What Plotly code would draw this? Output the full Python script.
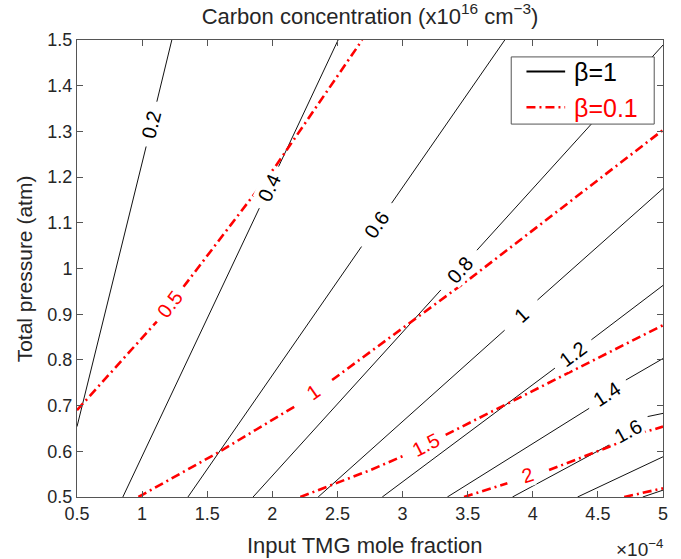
import plotly.graph_objects as go

# x: input TMG mole fraction in units of 1e-4 ; p: total pressure (atm)
x_ticks = [0.5, 1, 1.5, 2, 2.5, 3, 3.5, 4, 4.5, 5]
x_ticktext = ["0.5", "1", "1.5", "2", "2.5", "3", "3.5", "4", "4.5", "5"]
y_ticks = [0.5, 0.6, 0.7, 0.8, 0.9, 1.0, 1.1, 1.2, 1.3, 1.4, 1.5]
y_ticktext = ["0.5", "0.6", "0.7", "0.8", "0.9", "1", "1.1", "1.2", "1.3", "1.4", "1.5"]

# beta = 1 contours (black)
b1_levels = ["0.2", "0.4", "0.6", "0.8", "1", "1.2", "1.4", "1.6", "1.8", "2"]
b1_x = [
    [0.5, 0.779, 1.031, None, 1.113, 1.228],
    [0.852, 1.900, None, 2.048, 2.505],
    [1.352, 2.685, None, 2.916, 3.785],
    [1.852, 3.294, None, 3.571, 5.0],
    [2.352, 3.784, None, 4.036, 5.0],
    [2.844, 4.17, None, 4.45, 5.0],
    [3.344, 4.433, None, 4.715, 5.0],
    [3.844, 4.587, None, 4.882, 5.0],
    [4.344, 5.0],
    [4.844, 5.0],
]
b1_p = [
    [0.654, 0.975, 1.267, None, 1.365, 1.5],
    [0.5, 1.132, None, 1.223, 1.5],
    [0.5, 1.048, None, 1.143, 1.5],
    [0.5, 0.953, None, 1.040, 1.489],
    [0.5, 0.865, None, 0.931, 1.175],
    [0.5, 0.782, None, 0.844, 0.963],
    [0.5, 0.694, None, 0.756, 0.803],
    [0.5, 0.614, None, 0.676, 0.683],
    [0.5, 0.588],
    [0.5, 0.515],
]
b1_lab_x = [1.072, 1.973, 2.80, 3.44, 3.915, 4.31, 4.57, 4.735]
b1_lab_p = [1.316, 1.177, 1.095, 0.997, 0.898, 0.813, 0.725, 0.645]
b1_lab_angle = [-76, -65, -55, -48, -42, -37, -33, -29]

# beta = 0.1 contours (red)
b01_levels = ["0.5", "1", "1.5", "2", "2.5"]
b01_x = [
    [0.5, 1.113, None, 1.318, 1.805, 2.023, 2.69],
    [0.972, 1.575, 2.177, None, 2.459, 2.754, 3.395, 3.523, 5.0],
    [2.215, 2.754, 3.023, None, 3.331, 5.0],
    [3.472, 3.805, None, 4.125, 4.587, 4.869, 5.0],
    [4.702, 5.0],
]
b01_p = [
    [0.690, 0.884, None, 0.960, 1.143, 1.223, 1.5],
    [0.5, 0.596, 0.699, None, 0.756, 0.818, 0.953, 0.979, 1.303],
    [0.5, 0.559, 0.592, None, 0.636, 0.876],
    [0.5, 0.530, None, 0.559, 0.610, 0.643, 0.654],
    [0.5, 0.519],
]
b01_lab_x = [1.215, 2.318, 3.177, 3.962]
b01_lab_p = [0.922, 0.729, 0.614, 0.548]
b01_lab_angle = [-53, -35, -27, -18]

legend_names = ["β=1", "β=0.1"]

FONT = "Liberation Sans"
TXT = "#262626"
RED = "#ff0000"
DASH = "9px,4px,2px,4px"

fig = go.Figure()

for lev, xs, ps in zip(b1_levels, b1_x, b1_p):
    fig.add_trace(go.Scatter(x=xs, y=ps, mode="lines", name=lev, showlegend=False,
                             line=dict(color="#111111", width=1), hoverinfo="skip"))
for lev, xs, ps in zip(b01_levels, b01_x, b01_p):
    fig.add_trace(go.Scatter(x=xs, y=ps, mode="lines", name=lev, showlegend=False,
                             line=dict(color=RED, width=2.6, dash=DASH), hoverinfo="skip"))

annotations = []
for lev, lx, lp, ang in zip(b1_levels, b1_lab_x, b1_lab_p, b1_lab_angle):
    annotations.append(dict(x=lx, y=lp, xref="x", yref="y", text=lev, showarrow=False,
                            textangle=ang, bgcolor="white", borderpad=0,
                            font=dict(family=FONT, size=20, color="black")))
for lev, lx, lp, ang in zip(b01_levels, b01_lab_x, b01_lab_p, b01_lab_angle):
    annotations.append(dict(x=lx, y=lp, xref="x", yref="y", text=lev, showarrow=False,
                            textangle=ang, bgcolor="white", borderpad=0,
                            font=dict(family=FONT, size=20, color=RED)))

# axis titles and exponent label
annotations.append(dict(x=0.491, y=-0.107, xref="paper", yref="paper", xanchor="center",
                        yanchor="middle", showarrow=False, text="Input TMG mole fraction",
                        font=dict(family=FONT, size=22, color=TXT)))
annotations.append(dict(x=-0.089, y=0.5, xref="paper", yref="paper", xanchor="center",
                        yanchor="middle", showarrow=False, text="Total pressure (atm)",
                        textangle=-90, font=dict(family=FONT, size=21, color=TXT)))
annotations.append(dict(x=1.004, y=-0.112, xref="paper", yref="paper", xanchor="right",
                        yanchor="middle", showarrow=False, text="×10<sup>−4</sup>",
                        font=dict(family=FONT, size=19, color=TXT)))

# legend (drawn manually)
shapes = [
    dict(type="rect", xref="paper", yref="paper", x0=0.741, x1=0.985, y0=0.816, y1=0.963,
         fillcolor="white", line=dict(color="#555555", width=1), layer="above"),
    dict(type="line", xref="paper", yref="paper", x0=0.767, x1=0.833, y0=0.931, y1=0.931,
         line=dict(color="black", width=2), layer="above"),
    dict(type="line", xref="paper", yref="paper", x0=0.767, x1=0.833, y0=0.853, y1=0.853,
         line=dict(color=RED, width=2.6, dash=DASH), layer="above"),
]
annotations.append(dict(x=0.844, y=0.929, xref="paper", yref="paper", xanchor="left",
                        yanchor="middle", showarrow=False, text=legend_names[0],
                        font=dict(family=FONT, size=25, color="black")))
annotations.append(dict(x=0.844, y=0.851, xref="paper", yref="paper", xanchor="left",
                        yanchor="middle", showarrow=False, text=legend_names[1],
                        font=dict(family=FONT, size=25, color=RED)))

axis_common = dict(showline=True, linecolor="#555555", linewidth=1, mirror="ticks",
                   ticks="inside", ticklen=6, tickcolor="#555555", showgrid=False,
                   zeroline=False, tickfont=dict(family=FONT, size=18, color=TXT))

fig.update_layout(
    width=681, height=559,
    margin=dict(l=77, r=18, t=40, b=62),
    paper_bgcolor="white", plot_bgcolor="white",
    showlegend=False,
    title=dict(text="Carbon concentration (x10<sup>16</sup> cm<sup>−3</sup>)",
               x=0.5, xref="paper", xanchor="center", y=1 - 16 / 559, yref="container",
               yanchor="middle", font=dict(family=FONT, size=22, color=TXT)),
    xaxis=dict(range=[0.5, 5], tickvals=x_ticks, ticktext=x_ticktext, **axis_common),
    yaxis=dict(range=[0.5, 1.5], tickvals=y_ticks, ticktext=y_ticktext, **axis_common),
    shapes=shapes,
    annotations=annotations,
)

fig.write_html("out.html", config={"displayModeBar": False},
               post_script="document.body.style.margin='0px';")
